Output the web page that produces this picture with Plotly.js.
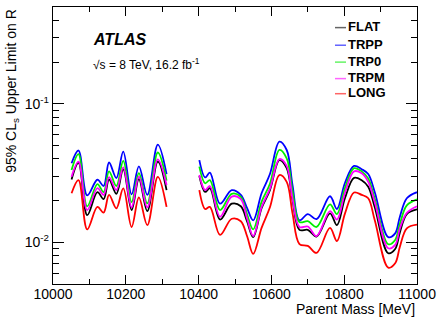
<!DOCTYPE html>
<html>
<head>
<meta charset="utf-8">
<script src="https://cdn.plot.ly/plotly-3.0.1.min.js"></script>
<style>html,body{margin:0;padding:0;background:#fff}#chart{width:438px;height:317px}</style>
</head>
<body>
<div id="chart"></div>
<script>
// Parent mass [MeV]; null entry separates the two scanned mass windows
var mass = [10051,10070,10094,10122,10139,10154,10174,10193,10216,10236,10259,10288,10312,
  10356,
  10402,10418,10431,10459,10491,10516,10533,10550,10573,10596,10622,10642,10658,10677,10700,10724,
  10761,10780,10802,10827,10848,10866,10884,10921,10940,10953,10972,11000];

var FLAT = [0.0284,0.0374,0.0157,0.0230,0.0205,0.0284,0.0224,0.0336,0.0171,0.0286,0.0168,0.0382,0.0238,
  null,
  0.0301,0.0231,0.0246,0.0146,0.0190,0.0182,0.0142,0.0109,0.0176,0.0238,0.0392,0.0343,0.0202,0.0123,0.0123,0.0110,
  0.0162,0.0133,0.0208,0.0292,0.0281,0.0252,0.0179,0.00834,0.00895,0.0118,0.0160,0.0173];

var TRPP = [0.0372,0.0460,0.0218,0.0283,0.0255,0.0377,0.0291,0.0452,0.0222,0.0353,0.0220,0.0508,0.0311,
  null,
  0.0392,0.0294,0.0318,0.0190,0.0238,0.0220,0.0177,0.0144,0.0226,0.0311,0.0533,0.0464,0.0259,0.0144,0.0160,0.0147,
  0.0215,0.0174,0.0268,0.0356,0.0337,0.0311,0.0230,0.0109,0.0116,0.0153,0.0208,0.0230];

var TRP0 = [0.0333,0.0433,0.0182,0.0263,0.0230,0.0325,0.0255,0.0387,0.0195,0.0316,0.0191,0.0445,0.0279,
  null,
  0.0352,0.0267,0.0281,0.0171,0.0224,0.0213,0.0160,0.0124,0.0196,0.0265,0.0464,0.0403,0.0234,0.0140,0.0142,0.0129,
  0.0188,0.0160,0.0246,0.0343,0.0325,0.0289,0.0206,0.00968,0.0104,0.0136,0.0185,0.0204];

var TRPM = [0.0297,0.0382,0.0171,0.0246,0.0220,0.0296,0.0238,0.0347,0.0179,0.0298,0.0179,0.0397,0.0259,
  null,
  0.0306,0.0238,0.0255,0.0153,0.0214,0.0205,0.0149,0.0111,0.0180,0.0244,0.0399,0.0356,0.0206,0.0129,0.0130,0.0111,
  0.0168,0.0146,0.0227,0.0325,0.0315,0.0273,0.0195,0.00906,0.00957,0.0126,0.0163,0.0182];

var LONG = [0.0226,0.0281,0.0124,0.0180,0.0164,0.0220,0.0176,0.0245,0.0129,0.0211,0.0133,0.0297,0.0180,
  null,
  0.0238,0.0174,0.0180,0.0113,0.0148,0.0142,0.0111,0.00824,0.0127,0.0179,0.0306,0.0273,0.0162,0.00971,0.00942,0.00838,
  0.0127,0.0102,0.0161,0.0229,0.0220,0.0208,0.0144,0.00656,0.00705,0.00930,0.0126,0.0134];

var seriesNames = ["FLAT","TRPP","TRP0","TRPM","LONG"];
var seriesData = [FLAT, TRPP, TRP0, TRPM, LONG];
var seriesColors = ["#000000","#0000ff","#00ee00","#ff00ff","#ff0000"];

var xTickVals = [10000,10200,10400,10600,10800,11000];
var xTickText = ["10000","10200","10400","10600","10800","11000"];
var yTickVals = [0.01, 0.1];
var yTickText = ["10<sup>-2</sup>","10<sup>-1</sup>"];
var yMinorVals = [0.006,0.007,0.008,0.009,0.02,0.03,0.04,0.05,0.06,0.07,0.08,0.09,0.2,0.3,0.4];

var FONT = "Liberation Sans, Arial, Helvetica, sans-serif";

var traces = seriesNames.map(function(n, i){
  return {
    x: mass, y: seriesData[i], name: n, type: 'scatter', mode: 'lines',
    line: {color: seriesColors[i], width: 1.8, shape: 'spline', smoothing: 1},
    connectgaps: false, showlegend: false, hoverinfo: 'x+y+name'
  };
});

var legendY = [0.9296, 0.866, 0.805, 0.7455, 0.691];
var annotations = [
  {text: "<b><i>ATLAS</i></b>", xref: 'paper', yref: 'paper', x: 0.105, y: 0.884,
   xanchor: 'left', yanchor: 'middle', showarrow: false, font: {family: FONT, size: 16, color: '#000'}},
  {text: "\u221As = 8 TeV, 16.2 fb<sup>-1</sup>", xref: 'paper', yref: 'paper', x: 0.105, y: 0.795,
   xanchor: 'left', yanchor: 'middle', showarrow: false, font: {family: FONT, size: 12, color: '#000'}},
  {text: "95% CL<sub>s</sub> Upper Limit on R", xref: 'paper', yref: 'paper', x: -0.113, y: 1.0,
   xanchor: 'center', yanchor: 'top', textangle: -90, showarrow: false, font: {family: FONT, size: 14, color: '#000'}},
  {text: "Parent Mass [MeV]", xref: 'paper', yref: 'paper', x: 1.0, y: -0.092,
   xanchor: 'right', yanchor: 'middle', showarrow: false, font: {family: FONT, size: 14, color: '#000'}}
];
var shapes = [];
seriesNames.forEach(function(n, i){
  annotations.push({
    text: '<b>' + n + '</b>',
    xref: 'paper', yref: 'paper', x: 0.806, y: legendY[i], xanchor: 'left', yanchor: 'middle',
    showarrow: false, font: {family: FONT, size: 13, color: '#000'}
  });
  shapes.push({
    type: 'line', xref: 'paper', yref: 'paper', x0: 0.7747, x1: 0.805, y0: legendY[i] - 0.004, y1: legendY[i] - 0.004,
    line: {color: seriesColors[i], width: 1.5}, opacity: 0.6
  });
});

var layout = {
  width: 438, height: 317,
  margin: {l: 53, r: 21, t: 7, b: 33, pad: 0},
  paper_bgcolor: '#fff', plot_bgcolor: '#fff',
  font: {family: FONT, size: 14, color: '#000'},
  showlegend: false,
  xaxis: {
    type: 'linear', range: [10000, 11000], tickmode: 'array', tickvals: xTickVals, ticktext: xTickText,
    ticks: 'inside', ticklen: 9, tickwidth: 1, tickcolor: '#000', ticklabelstandoff: -3,
    showline: true, linecolor: '#000', linewidth: 1.2, mirror: 'ticks',
    showgrid: false, zeroline: false, tickfont: {family: FONT, size: 14},
    minor: {dtick: 100, tick0: 10000, ticks: 'inside', ticklen: 5, tickcolor: '#000', showgrid: false}
  },
  yaxis: {
    type: 'log', range: [Math.log10(0.005), Math.log10(0.5)], tickmode: 'array', tickvals: yTickVals, ticktext: yTickText,
    ticks: 'inside', ticklen: 11, tickwidth: 1, tickcolor: '#000',
    showline: true, linecolor: '#000', linewidth: 1.2, mirror: 'ticks',
    showgrid: false, zeroline: false, tickfont: {family: FONT, size: 14},
    minor: {tickmode: 'array', tickvals: yMinorVals, ticks: 'inside', ticklen: 6, tickcolor: '#000', showgrid: false}
  },
  annotations: annotations,
  shapes: shapes
};

Plotly.newPlot('chart', traces, layout, {staticPlot: true, displayModeBar: false});
</script>
</body>
</html>
